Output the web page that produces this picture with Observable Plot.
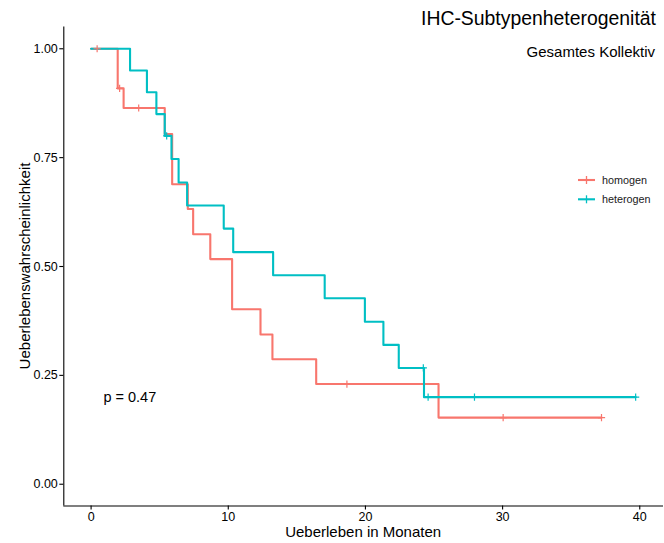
<!DOCTYPE html>
<html>
<head>
<meta charset="utf-8">
<script src="https://cdn.jsdelivr.net/npm/d3@7"></script>
<script src="https://cdn.jsdelivr.net/npm/@observablehq/plot@0.6"></script>
<style>
  html, body { margin: 0; padding: 0; background: #fff; }
  #wrap { position: relative; width: 664px; height: 543px; font-family: "Liberation Sans", Arial, sans-serif; }
  #wrap > svg { position: absolute; left: 0; top: 0; }
  #overlay { pointer-events: none; }
</style>
</head>
<body>
<div id="wrap"></div>
<script>
// ---- data ----
const groups = ["homogen", "heterogen"];
const groupColors = ["#F8766D", "#00BFC4"];

const homogenTime = [0, 1.94, 2.37, 5.37, 5.91, 7.05, 7.44, 8.69, 10.28, 12.35, 13.22, 16.41, 25.33, 37.21];
const homogenSurv = [1, 0.909, 0.864, 0.804, 0.689, 0.632, 0.574, 0.517, 0.402, 0.344, 0.287, 0.23, 0.153, 0.153];
const homogenCensorTime = [0.44, 2.08, 3.47, 18.65, 30.04, 37.21];
const homogenCensorSurv = [1, 0.909, 0.864, 0.23, 0.153, 0.153];

const heterogenTime = [0, 2.84, 4.07, 4.76, 5.37, 5.86, 6.38, 7.0, 9.67, 10.36, 13.27, 17.03, 19.96, 21.31, 22.43, 24.27, 39.7];
const heterogenSurv = [1, 0.95, 0.90, 0.85, 0.80, 0.747, 0.693, 0.64, 0.587, 0.533, 0.48, 0.427, 0.373, 0.32, 0.267, 0.2, 0.2];
const heterogenCensorTime = [5.51, 24.22, 24.57, 27.95, 39.7];
const heterogenCensorSurv = [0.80, 0.267, 0.2, 0.2, 0.2];

const xTicks = [0, 10, 20, 30, 40];
const yTicks = [0, 0.25, 0.5, 0.75, 1];
const xDomain = [-1.99, 41.73];
const yDomain = [-0.05, 1.05];

const pValueText = "p = 0.47";
const pValueX = 0.9;
const pValueY = 0.2;

const titleText = "IHC-Subtypenheterogenität";
const subtitleText = "Gesamtes Kollektiv";
const xLabel = "Ueberleben in Monaten";
const yLabel = "Ueberlebenswahrscheinlichkeit";

// ---- build tables ----
const curveRows = [
  ...homogenTime.map((t, i) => ({group: "homogen", time: t, surv: homogenSurv[i]})),
  ...heterogenTime.map((t, i) => ({group: "heterogen", time: t, surv: heterogenSurv[i]}))
];
const censorRows = [
  ...homogenCensorTime.map((t, i) => ({group: "homogen", time: t, surv: homogenCensorSurv[i]})),
  ...heterogenCensorTime.map((t, i) => ({group: "heterogen", time: t, surv: heterogenCensorSurv[i]}))
];

const plusSymbol = {
  draw(context, size) {
    const r = Math.sqrt(size / Math.PI);
    context.moveTo(-r, 0); context.lineTo(r, 0);
    context.moveTo(0, -r); context.lineTo(0, r);
  }
};

const W = 664, H = 543;
const mL = 63.3, mR = 1, mT = 26.5, mB = 37.5;

const chart = Plot.plot({
  width: W, height: H,
  marginLeft: mL, marginRight: mR, marginTop: mT, marginBottom: mB,
  style: {fontFamily: "'Liberation Sans', Arial, sans-serif", fontSize: "12px", color: "black", background: "white", overflow: "visible"},
  x: {domain: xDomain},
  y: {domain: yDomain},
  color: {domain: groups, range: groupColors},
  marks: [
    Plot.axisX({ticks: xTicks, tickSize: 4, tickPadding: 2, label: null, fontSize: 12.5, stroke: "black", strokeWidth: 1.1}),
    Plot.axisY({ticks: yTicks, tickSize: 4, tickPadding: 2, label: null, fontSize: 12.5, tickFormat: d3.format(".2f"), stroke: "black", strokeWidth: 1.1}),
    Plot.ruleX([xDomain[0]], {stroke: "black", strokeWidth: 1.1}),
    Plot.ruleY([yDomain[0]], {stroke: "black", strokeWidth: 1.1}),
    Plot.line(curveRows, {x: "time", y: "surv", z: "group", stroke: "group", curve: "step-after", strokeWidth: 2.1}),
    Plot.dot(censorRows, {x: "time", y: "surv", stroke: "group", fill: "none", symbol: plusSymbol, r: 3.6, strokeWidth: 1.2}),
    Plot.text([pValueText], {x: pValueX, y: pValueY, text: d => d, textAnchor: "start", fontSize: 14.5, fill: "black"})
  ]
});

const wrap = document.getElementById("wrap");
wrap.appendChild(chart);

// ---- overlay: titles, axis titles, legend ----
const ns = "http://www.w3.org/2000/svg";
const ov = document.createElementNS(ns, "svg");
ov.setAttribute("id", "overlay");
ov.setAttribute("width", W);
ov.setAttribute("height", H);
ov.setAttribute("font-family", "'Liberation Sans', Arial, sans-serif");
function addText(str, attrs) {
  const t = document.createElementNS(ns, "text");
  for (const k in attrs) t.setAttribute(k, attrs[k]);
  t.textContent = str;
  ov.appendChild(t);
  return t;
}
addText(titleText, {x: 656, y: 25, "text-anchor": "end", "font-size": 19.4, fill: "black"});
addText(subtitleText, {x: 655, y: 57.3, "text-anchor": "end", "font-size": 15, fill: "black"});
addText(xLabel, {x: (mL + W - mR) / 2, y: 537, "text-anchor": "middle", "font-size": 15, fill: "black"});
addText(yLabel, {transform: `translate(29.5,${(mT + H - mB) / 2}) rotate(-90)`, "text-anchor": "middle", "font-size": 15, fill: "black"});

// legend
const legendX = 578, legendY0 = 180, legendStep = 19.3;
groups.forEach((g, i) => {
  const y = legendY0 + i * legendStep;
  const c = groupColors[i];
  const line = document.createElementNS(ns, "line");
  line.setAttribute("x1", legendX); line.setAttribute("x2", legendX + 17);
  line.setAttribute("y1", y); line.setAttribute("y2", y);
  line.setAttribute("stroke", c); line.setAttribute("stroke-width", 2.1);
  ov.appendChild(line);
  const v = document.createElementNS(ns, "line");
  v.setAttribute("x1", legendX + 8.5); v.setAttribute("x2", legendX + 8.5);
  v.setAttribute("y1", y - 4); v.setAttribute("y2", y + 4);
  v.setAttribute("stroke", c); v.setAttribute("stroke-width", 1.3);
  ov.appendChild(v);
  addText(g, {x: legendX + 24, y: y + 3.8, "font-size": 10.8, fill: "#1a1a1a"});
});
wrap.appendChild(ov);
</script>
</body>
</html>
